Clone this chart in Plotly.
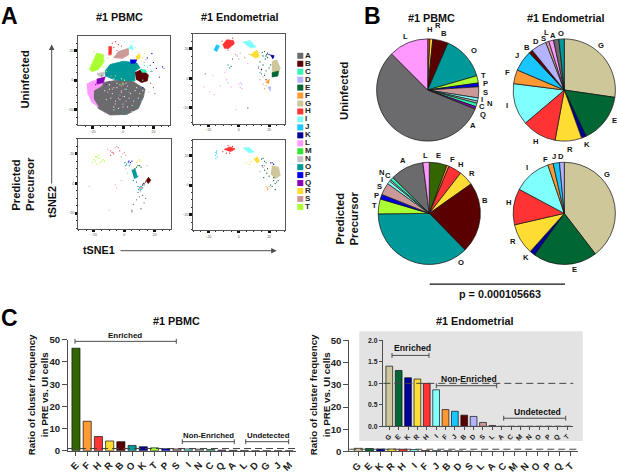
import plotly.graph_objects as go

W, H = 617, 475
FONT = "Liberation Sans"
AXIS_GREY = "#4d4d4d"

# cluster letters and colours
clusters = list("ABCDEFGHIJKLMNOPQRST")
cluster_colors = {
    "A": "#6b6b6d", "B": "#5a0000", "C": "#33f5b5", "D": "#b3b3ff", "E": "#006633",
    "F": "#ff9933", "G": "#cdc79a", "H": "#ff3333", "I": "#80ffff", "J": "#1ac6ff",
    "K": "#000099", "L": "#ff99ff", "M": "#33e533", "N": "#c4c4c4", "O": "#009999",
    "P": "#0000e6", "Q": "#8a00b8", "R": "#ffdd33", "S": "#cc9999", "T": "#aaff33",
}
PBMC_E = "#336600"

# pies (percent of cells)
pie_pbmc_ui_labels = ["H", "R", "B", "O", "T", "P", "S", "I", "N", "C", "Q", "A", "L"]
pie_pbmc_ui_values = [0.7, 0.9, 4.9, 14.0, 2.3, 1.2, 3.5, 1.0, 0.7, 1.1, 0.8, 56.4, 12.5]
pie_endo_ui_labels = ["G", "E", "K", "R", "H", "I", "F", "J", "B", "D", "S", "L", "A", "O"]
pie_endo_ui_values = [27.3, 15.7, 1.5, 8.4, 10.9, 13.2, 4.4, 6.6, 1.2, 4.9, 1.0, 1.5, 1.7, 1.7]
pie_pbmc_pre_labels = ["E", "F", "H", "R", "B", "O", "T", "P", "S", "I", "N", "C", "A", "L"]
pie_pbmc_pre_values = [5.6, 0.7, 4.2, 4.7, 22.4, 37.1, 4.7, 1.5, 3.8, 1.0, 0.5, 1.0, 10.6, 2.0]
pie_endo_pre_labels = ["G", "E", "K", "R", "H", "I", "F", "J", "D"]
pie_endo_pre_values = [39.6, 20.3, 1.7, 9.8, 11.4, 12.0, 1.7, 2.0, 1.5]

# ratio bars
pbmc_cats = ["E", "F", "H", "R", "B", "O", "K", "T", "P", "S", "I", "N", "C", "Q", "A", "L", "D", "G", "J", "M"]
pbmc_ratio = [46.2, 13.3, 6.4, 4.4, 4.1, 2.4, 1.8, 1.3, 0.9, 0.8, 0.8, 0.7, 0.6, 0.3, 0.2, 0.15, 0, 0, 0, 0]
endo_cats = ["G", "E", "K", "R", "H", "I", "F", "J", "B", "D", "S", "L", "A", "C", "M", "N", "O", "P", "Q", "T"]
endo_ratio = [1.4, 1.3, 1.13, 1.1, 1.0, 0.85, 0.39, 0.35, 0.26, 0.23, 0.09, 0.02, 0, 0, 0, 0, 0, 0, 0, 0]

# tSNE regions: filled outlines for the dense clusters, dots for the rest
pbmc_ui_blobs = {
    "A": ([-19.5, -12.9, 0.3, 5.7, 14.5, 13.4, 10.1, 2.5, -8.5, -16.2, -19.5], [-5.9, -1.5, 0.7, -0.4, -5.9, -11.4, -19, -23, -23.4, -19, -12.5]),
    "L": ([-23.9, -19.5, -12.9, -14, -19.5, -19.5, -16.2, -20.6, -23.4], [-2.6, -0.4, -0.4, -3.7, -7, -12.5, -18, -14.7, -8.1]),
    "T": ([-22.1, -17.3, -12.9, -12.9, -16.2, -20.6], [7.3, 18.2, 17.1, 11.7, 7.3, 5.7]),
    "O": ([-11.8, -8.5, 0.3, 9, 11.2, 7.9, 7.9, 0.3, -6.3, -11.8], [6.2, 10.6, 12.8, 11.7, 8.4, 6.2, -0.4, -0.4, 0.7, 2.9]),
    "B": ([7.9, 12.3, 16.7, 16, 12.3, 8.6], [5.1, 7.3, 3.6, -0.4, -1.5, 0.7]),
    "S": ([-6.3, -3, 3.6, 3.6, -0.8], [15, 19.3, 21.5, 17.1, 14.5]),
    "H": ([-9.6, -7.4, -7.8, -9.6], [22.6, 22.6, 17.1, 17.1]),
    "Q": ([-17.3, -11.8, -12.9, -17.3], [0.7, 2.2, -1.5, -2.6]),
    "R": ([8.6, 10.8, 11.2, 8.6], [15.9, 18, 14.8, 13.7]),
    "P": ([4.6, 9, 7.9, 5], [13.7, 13.7, 11.5, 11.5]),
    "C": ([11.2, 14.5, 15.6, 12.3], [7.2, 7.2, 5.4, 5.4]),
    "I": ([3.5, 5.7, 6.8], [21.3, 23.9, 20.2]),
    "N": ([-17.3, -11.8, -12.9, -16.2], [4.4, 5.7, 2.9, 2.7]),
}
pbmc_ui_dots = {
    "L": ([-1, -3, 2, -6, -10, 3, -12, -5, 0], [-7, -12, -14, -5, -8, -4, -22, -16, -18]),
    "S": ([-1, 0, -2, 4, -8, 1], [-4, -11, -10, -8, 3, -6]),
    "O": ([-1, 1, 8, -3, 3, 0, 12], [-22, -23, -18, -3, -6, -21, -14]),
    "P": ([20, 22, 26, 19, 16, 13], [12, 8, 9, 18, 15, -5]),
    "A": ([18, 20, 24, 27, 21, 18, 19], [-2, -5, 2, 8, -9, 10, 6]),
    "H": ([-7, -3, -4, -5, -1, -6], [25, 24, 20, 26, 23, 22]),
    "I": ([1, 5, 8, 10, 7], [26, 25, 22, 19, 26]),
    "R": ([13, 14, -5, -1, 0, -2, 1], [15, 18, 3, 1, -2, -3, 0]),
    "C": ([16, 18, 17, 14, 13], [9, 6, 2, 10, 0]),
    "D": ([14, 12, 17, 15], [12, -14, -8, 14]),
    "Q": ([-18, -14, -9, -11], [-3, 3, -1, -3]),
    "T": ([-12, -13, -11, -10, -19], [13, 9, 6, 15, 19]),
    "N": ([-9, -7, -10, -6], [-3, -6, 2, 1]),
}
pbmc_ui_gaps_x = [-9, -7, -4, -1, 2, 5, 8, 11, -11, -8, -5, -2, 1, 4, 7, 10, -6, -3, 0, 3, 6, -9, -4, 2, 9, -12, 13, 6, -6, 0]
pbmc_ui_gaps_y = [-6, -9, -5, -8, -6, -9, -7, -9, -13, -12, -14, -13, -11, -12, -14, -12, -18, -19, -16, -18, -17, -3, -2, -2, -5, -7, -7, -21, -20, -3]

endo_ui_blobs = {
    "J": ([-16.3, -14.5, -12.7, -14.5], [18.9, 22.6, 21.7, 17.8]),
    "H": ([-10.5, -7.9, -3.5, -2.9, -6.8, -9.7], [22.6, 25.9, 25.4, 23.3, 20, 20.4]),
    "I": ([2.6, 7.5, 11.4, 7.5], [24.3, 25.4, 21.1, 20.4]),
    "R": ([7.5, 11.9, 13.6, 10.8], [15.7, 18.9, 14.6, 13.5]),
    "G": ([21.8, 25, 27.3, 26.2, 21.8], [11.3, 12.4, 7, 3.7, 4.8]),
    "E": ([21.8, 26.2, 25.7, 21.8], [3.7, 4.8, 1.5, 0.9]),
    "K": ([20.7, 23.3, 22.4], [15.7, 15.2, 13]),
    "F": ([17.8, 20.2, 19.6], [-2.8, -0.7, -3.9]),
    "D": ([19.1, 21.1, 20.7], [-6.1, -5.7, -8.7]),
}
endo_ui_dots = {
    "E": ([15.5, 17, 18.5, 16, 18, 17.5, 19, 14, 16, 20, 18, 15, 21, 17], [17.5, 18, 16, 15, 15, 13, 14, 11, 9, 7, 5, 6, 9, 2]),
    "L": ([-23, -19, -16, -12, -8, -5, 0, 1, 2, -17, -9, 6, -2], [-6, -9, -11, -5, -1, -6, -4, -3, -7, 2, 4, 10, -21]),
    "D": ([13, 15, 2, 1, -7, 7, 17], [8, 5, -4, -6, -3, 16, 3]),
    "S": ([-2, -1, 1, 0, 4, 14, 16], [16, 15, 17, 13, 14, -1, 1]),
    "O": ([-7, -6, -5, 14, 15], [9, 7, 8, 4, 3]),
    "A": ([-22, 6, -4, 13], [3, -20, 13, 7]),
    "B": ([15, 18], [6, -1]),
    "F": ([16, 18, 17], [-4, -5, -7]),
    "K": ([19, 20], [17, 16]),
    "H": ([-11, -4, -7], [25, 27, 19]),
}

pbmc_pre_blobs = {
    "O": ([4.8, 7, 8.6, 6.4], [8.7, 9.8, 4.3, 3.3]),
    "B": ([15.8, 17.4, 15.8, 14.3], [4.3, 2.2, 0, 2.2]),
}
pbmc_pre_dots = {
    "O": ([0.4, 1.5, 2.6, 3.3, 1, 9, 10, 11, 12, 9.5, 11, 10.5, 13, 8, 6, 9, 12.5], [14, 13, 14, 12, 12, -2, -3, -2, -3, -4, -4, -5, -1, 1, 2, 5, 0]),
    "T": ([-20, -19, -18, -17, -16, -15, -14, -18, -21, -17, -13, -19], [16, 15, 18, 17, 14, 15, 16, 13, 14, 19, 15, 18]),
    "H": ([-9, -8, -7, -9, -4, -3], [22, 21, 20, 19, 24, 22]),
    "S": ([-6, -5, -1, 0, 1, -2, -7], [24, 25, 20, 21, 19, 18, 21]),
    "L": ([-11, -2, -5, -6, -23, 1, 3, -10], [23, 2, -3, -1, -2, 10, 15, -18]),
    "R": ([9, 10, 11, 8], [15, 16, 15, 14]),
    "E": ([8, 9, 10, 7, 11], [11, 12, 12, 10, 11]),
    "A": ([10, 12, 14, 8, 6, 13, 5, 11, 9, 5], [-9, -8, -10, -11, -14, -13, -18, -17, -6, -19]),
    "B": ([12, 13, 11, 14], [-1, 0, -3, 1]),
    "P": ([3, 4, 5], [15, 14, 15]),
    "D": ([15, 4, 2], [12, 13, 7]),
}

endo_pre_blobs = {
    "H": ([-9.7, -5.7, -2.4, -5.7], [23.9, 25.7, 24.3, 22.4]),
    "I": ([3.1, 7, 10.1, 6.4], [25, 25.2, 22.2, 21.7]),
    "R": ([10.1, 12.3, 13.6, 11.4], [17.4, 19.1, 15.7, 15.2]),
    "G": ([21.8, 26.2, 27.3, 24, 21.1], [13, 12, 6.5, 4.3, 7.6]),
}
endo_pre_dots = {
    "J": ([-15, -14.5, -15.5, -14, -15, -14.5], [22, 21, 20, 19, 18, 23]),
    "H": ([-10.5, -8, -6, -4, -7], [22.5, 21.5, 21.5, 26, 26.5]),
    "E": ([15, 16, 17, 18, 15.5, 19, 17, 18.5, 20, 16.5, 23, 24, 25, 22, 26, 24, 23, 21], [17.5, 18, 16, 15, 13, 11, 10, 8, 6, 5, 3, 1, 2, -1, 3, -3, 5, 0]),
    "F": ([18, 19, 20, 19], [-1, -2, -1, -3]),
    "K": ([21, 22, 23], [15, 15, 14]),
    "R": ([5, 7, 8], [15, 14, 16]),
    "S": ([16, 17, 14], [12, 13, 9]),
}

tick_vals = [-20, 0, 20]
bar_y_ticks = [0, 10, 20, 30, 40, 50]
inset_y_ticks = [0.0, 0.5, 1.0, 1.5, 2.0]


def dom_x(a, b):
    return [a / W, b / W]


def dom_y(top, bottom):
    return [1 - bottom / H, 1 - top / H]


fig = go.Figure()
annotations = []
shapes = []


def note(text, x, y, size, angle=0, color="#111111"):
    annotations.append(dict(
        text=f"<b>{text}</b>", x=x / W, y=1 - y / H, xref="paper", yref="paper",
        xanchor="center", yanchor="middle", showarrow=False, textangle=angle,
        font=dict(family=FONT, size=size, color=color),
    ))


def seg(x0, y0, x1, y1, color=AXIS_GREY, width=1.0, dash="solid"):
    shapes.append(dict(
        type="line", x0=x0 / W, x1=x1 / W, y0=1 - y0 / H, y1=1 - y1 / H,
        xref="paper", yref="paper", line=dict(color=color, width=width, dash=dash),
    ))


def bracket(x0, x1, y):
    seg(x0, y, x1, y)
    seg(x0, y - 2.5, x0, y + 2.5)
    seg(x1, y - 2.5, x1, y + 2.5)


# ---- panel A: tSNE maps ----
def tsne_panel(idx, box, center, blobs, dots):
    left, right, top, bottom = box
    cx, cy = center
    ax = "" if idx == 1 else str(idx)
    scale = 20 / 30.4
    x_range = [(left - cx) * scale, (right - cx) * scale]
    y_range = [(cy - bottom) * scale, (cy - top) * scale]
    for letter, (xs, ys) in blobs.items():
        fig.add_trace(go.Scatter(
            x=xs, y=ys, mode="lines", fill="toself", fillcolor=cluster_colors[letter],
            line=dict(width=0.8, color=cluster_colors[letter]), xaxis="x" + ax, yaxis="y" + ax,
            showlegend=False, hoverinfo="skip",
        ))
    for letter, (xs, ys) in dots.items():
        fig.add_trace(go.Scatter(
            x=xs, y=ys, mode="markers", marker=dict(size=1.3, color=cluster_colors[letter]),
            xaxis="x" + ax, yaxis="y" + ax, showlegend=False, hoverinfo="skip",
        ))
    common = dict(
        showgrid=False, zeroline=False, showline=True, mirror=True, linecolor="#555555", linewidth=1,
        tickmode="array", tickvals=tick_vals, ticks="outside", ticklen=2.5, tickwidth=2.5, tickcolor="#111111",
        tickfont=dict(family=FONT, size=3.5, color="#555555"),
        minor=dict(tickmode="linear", dtick=5, ticks="outside", ticklen=1.2, tickwidth=0.7, tickcolor="#333333"),
    )
    fig.layout["xaxis" + ax] = dict(common, domain=dom_x(left, right), range=x_range, anchor="y" + ax)
    fig.layout["yaxis" + ax] = dict(common, domain=dom_y(top, bottom), range=y_range, anchor="x" + ax)


tsne_panel(1, (77.7, 169.7, 30.7, 122), (123, 76), pbmc_ui_blobs, pbmc_ui_dots)
fig.add_trace(go.Scatter(
    x=pbmc_ui_gaps_x, y=pbmc_ui_gaps_y, mode="markers", marker=dict(size=1.2, color="#ededed"),
    xaxis="x", yaxis="y", showlegend=False, hoverinfo="skip",
))
tsne_panel(2, (192.7, 285, 28.3, 120.3), (238.7, 74), endo_ui_blobs, endo_ui_dots)
tsne_panel(3, (78.3, 170.7, 136, 228), (124.3, 181.7), pbmc_pre_blobs, pbmc_pre_dots)
tsne_panel(4, (192.7, 285, 137.3, 229.3), (238.7, 183.3), endo_pre_blobs, endo_pre_dots)

# cluster key, drawn as a tiny one-column scatter
fig.add_trace(go.Scatter(
    x=[0] * len(clusters), y=clusters, mode="markers+text", text=clusters, textposition="middle right",
    textfont=dict(family=FONT, size=8, color="#222222", weight="bold"),
    marker=dict(symbol="square", size=6, color=[cluster_colors[c] for c in clusters]),
    xaxis="x5", yaxis="y5", showlegend=False, hoverinfo="skip", cliponaxis=False,
))
fig.layout.xaxis5 = dict(domain=dom_x(296, 320), range=[-4.3, 19.7], visible=False, anchor="y5")
fig.layout.yaxis5 = dict(
    domain=dom_y(47, 210), range=[19.53, -0.49], visible=False, anchor="x5",
    categoryorder="array", categoryarray=clusters,
)

note("A", 9, 10, 23, color="#000000")
note("#1 PBMC", 119.7, 11.7, 10.8)
note("#1 Endometrial", 239.3, 11.7, 10.8)
note("Uninfected", 25.3, 75, 11.3, -90)
note("Predicted", 16.3, 182.7, 11.3, -90)
note("Precursor", 30.5, 182.7, 11.3, -90)
note("tSNE2", 51.7, 200.7, 10.8, -90)
note("tSNE1", 99.3, 250, 10.8)
annotations.append(dict(
    x=51.7 / W, y=1 - 39.5 / H, ax=0, ay=140.5, xref="paper", yref="paper",
    text="", showarrow=True, arrowhead=2, arrowsize=1.1, arrowwidth=1, arrowcolor=AXIS_GREY,
))
annotations.append(dict(
    x=276.7 / W, y=1 - 250.5 / H, ax=-157.7, ay=0, xref="paper", yref="paper",
    text="", showarrow=True, arrowhead=2, arrowsize=1.1, arrowwidth=1, arrowcolor=AXIS_GREY,
))


# ---- panel B: pies ----
def pie(labels, values, cx, cy, r, colors=None):
    cols = dict(cluster_colors, **(colors or {}))
    fig.add_trace(go.Pie(
        labels=labels, values=values, sort=False, direction="clockwise", rotation=0,
        textinfo="none", hoverinfo="label+value", showlegend=False,
        marker=dict(colors=[cols[c] for c in labels], line=dict(color="#111111", width=0.7)),
        domain=dict(x=dom_x(cx - r, cx + r), y=dom_y(cy - r, cy + r)),
    ))


pie(pie_pbmc_ui_labels, pie_pbmc_ui_values, 427.7, 86, 52.3)
pie(pie_endo_ui_labels, pie_endo_ui_values, 564.3, 86, 52.3)
pie(pie_pbmc_pre_labels, pie_pbmc_pre_values, 429.3, 212.3, 52.3, {"E": PBMC_E})
pie(pie_endo_pre_labels, pie_endo_pre_values, 564.3, 212.3, 52.3)

pie_tags = [
    ("H", 429.8, 24.5), ("R", 438, 20), ("B", 443.7, 28.3), ("O", 473.7, 45.7), ("T", 483.3, 71.5),
    ("P", 485, 79.5), ("S", 485, 88.3), ("I", 482, 95.5), ("N", 489.5, 100), ("C", 482.3, 103.3),
    ("Q", 482.7, 110.7), ("A", 473.3, 122.7), ("L", 405, 31),
    ("G", 601.3, 40), ("E", 614, 117.3), ("K", 587.3, 141.3), ("R", 570, 146.7), ("H", 535.3, 138.7),
    ("I", 507, 102.3), ("F", 507.7, 68.3), ("J", 517, 51), ("B", 526.7, 42), ("D", 535.7, 36),
    ("S", 543.3, 33.3), ("L", 546.7, 26.7), ("A", 553.3, 29.7), ("O", 560.7, 28),
    ("A", 403.3, 158.3), ("L", 425, 153), ("E", 439, 153), ("F", 452, 157.3), ("H", 460.3, 162),
    ("R", 472.3, 171), ("B", 485.3, 199), ("O", 460.7, 262.7), ("T", 374, 204), ("P", 376.3, 194),
    ("S", 379.3, 185), ("I", 382.3, 178), ("N", 381, 170), ("C", 388, 173.3),
    ("G", 607.3, 172.3), ("E", 574, 270), ("K", 525.7, 257.7), ("R", 513, 241.3), ("H", 508.3, 201),
    ("I", 526.7, 165.3), ("F", 545.7, 156.7), ("J", 554, 154.3), ("D", 561, 153.7),
]
for tag, tx, ty in pie_tags:
    note(tag, tx, ty, 7.6)

note("B", 372, 10, 23, color="#000000")
note("#1 PBMC", 431.7, 12, 10.8)
note("#1 Endometrial", 565, 12, 10.8)
note("Uninfected", 344, 87, 11.3, -90)
note("Predicted", 339.5, 218, 11.3, -90)
note("Precursor", 353.5, 218, 11.3, -90)
seg(429.7, 284.7, 565, 284.7, color="#111111", width=1.4)
note("p = 0.000105663", 500, 294.7, 10.8)


# ---- panel C: ratio bars ----
def bars(idx, cats, vals, box, x_range, y_range, y_ticks, tick_size, colors=None, ticklen=4):
    left, right, top, bottom = box
    cols = dict(cluster_colors, **(colors or {}))
    fig.add_trace(go.Bar(
        x=cats, y=vals, width=0.72, marker=dict(color=[cols[c] for c in cats], line=dict(color="#111111", width=0.7)),
        xaxis=f"x{idx}", yaxis=f"y{idx}", showlegend=False,
    ))
    fig.layout[f"xaxis{idx}"] = dict(
        domain=dom_x(left, right), range=x_range, anchor=f"y{idx}", type="category",
        categoryorder="array", categoryarray=cats, tickmode="array", tickvals=cats, ticktext=cats,
        tickangle=-45, ticks="outside", ticklen=ticklen, tickwidth=1, tickcolor=AXIS_GREY,
        showline=True, linecolor=AXIS_GREY, linewidth=1, showgrid=False, zeroline=False,
        tickfont=dict(family=FONT, size=tick_size, color="#222222", weight="bold"),
    )
    fig.layout[f"yaxis{idx}"] = dict(
        domain=dom_y(top, bottom), range=y_range, anchor=f"x{idx}", tickmode="array", tickvals=y_ticks,
        ticks="outside", ticklen=ticklen + 1, tickwidth=1, tickcolor=AXIS_GREY, showline=True,
        linecolor=AXIS_GREY, linewidth=1, showgrid=False, zeroline=False,
        tickfont=dict(family=FONT, size=tick_size, color="#222222", weight="bold"),
    )
    shapes.append(dict(
        type="line", xref=f"x{idx} domain", yref=f"y{idx}", x0=0, x1=1, y0=1, y1=1,
        line=dict(color="#444444", width=1, dash="7px,4px"), layer="above",
    ))


shapes.append(dict(
    type="rect", x0=359.3 / W, x1=582.7 / W, y0=1 - 445.3 / H, y1=1 - 333 / H, xref="paper", yref="paper",
    fillcolor="#e3e3e3", line=dict(width=0), layer="below",
))
bars(6, pbmc_cats, pbmc_ratio, (68, 296, 341.7, 455.3), [-0.71, 19.6], [0, 50], bar_y_ticks, 9.6, {"E": PBMC_E})
bars(7, endo_cats, endo_ratio, (349.3, 578, 342.3, 456), [-0.8, 19.65], [0, 50], bar_y_ticks, 9.6)
bars(8, endo_cats, endo_ratio, (383.3, 573.3, 342.3, 430.3), [-0.64, 19.64], [0, 2], inset_y_ticks, 6.8, ticklen=2.5)
fig.layout.yaxis8.tickformat = ".1f"

note("C", 9, 319, 23, color="#000000")
note("#1 PBMC", 176.7, 322.3, 10.8)
note("#1 Endometrial", 474.3, 322.3, 10.8)
note("Ratio of cluster frequency", 31.5, 398, 9.8, -90)
note("in PRE vs. UI cells", 44.5, 398, 9.8, -90)
note("Ratio of cluster frequency", 313.5, 398, 9.8, -90)
note("in PRE vs. UI cells", 326.5, 398, 9.8, -90)

bracket(75, 176.3, 343.3)
bracket(182.3, 234.3, 446)
bracket(245.7, 288.7, 446)
note("Enriched", 125.3, 337, 8)
note("Non-Enriched", 208.3, 439.5, 7.8)
note("Undetected", 268, 439.5, 7.8)
bracket(392, 429, 357.7)
bracket(436.3, 496.7, 388.7)
bracket(503.7, 565.7, 422)
note("Enriched", 412.3, 350.3, 8.7)
note("Non-Enriched", 469.3, 382, 8.5)
note("Undetected", 537.3, 415.3, 8.6)

fig.update_layout(
    width=W, height=H, margin=dict(l=0, r=0, t=0, b=0),
    paper_bgcolor="white", plot_bgcolor="rgba(0,0,0,0)",
    font=dict(family=FONT), annotations=annotations, shapes=shapes, barmode="overlay",
)

fig.write_html("out.html", config=dict(displayModeBar=False), post_script="document.body.style.margin='0';")
